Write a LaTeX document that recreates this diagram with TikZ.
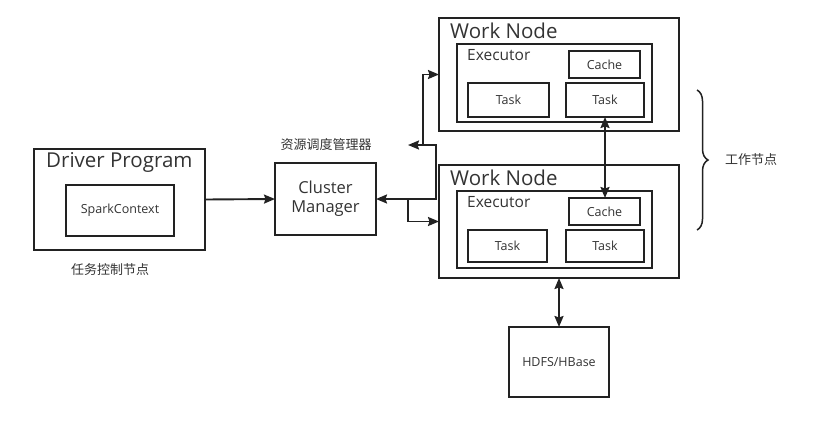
\documentclass[tikz,border=0pt]{standalone}
\usepackage{fontspec}
\setmainfont{Open Sans}
\newfontfamily\cjk{Noto Sans CJK SC}
\usetikzlibrary{arrows.meta,decorations.pathreplacing}
\definecolor{ink}{HTML}{222222}
\definecolor{txt}{HTML}{333333}
\tikzset{
  box/.style={draw=ink,line width=1.9pt,anchor=north west,inner sep=0pt,outer sep=0pt,text=txt},
  small/.style={font=\fontsize{12.5}{15}\selectfont},
  title/.style={anchor=west,inner sep=0pt,text=txt},
  big/.style={font=\fontsize{20.5}{24}\selectfont},
  lbl/.style={inner sep=0pt,text=txt,font=\cjk\fontsize{13}{15}\selectfont},
  conn/.style={draw=ink,line width=1.9pt},
  ah/.tip={Stealth[length=11pt,width=9pt,inset=1.5pt]},
}
\begin{document}
\begin{tikzpicture}[x=1pt,y=-1pt]
\useasboundingbox (0,0) rectangle (822,424);
% Work node 1
\node[box,minimum width=240,minimum height=113] (wn1) at (439,18) {};
\node[title,big] (wn1t) at (450,31) {Work Node};
\node[box,minimum width=195,minimum height=78] (ex1) at (457,44) {};
\node[title,font=\fontsize{15.5}{18}\selectfont] (ex1t) at (467,55) {Executor};
\node[box,small,minimum width=71,minimum height=27] (c1) at (569,51) {Cache};
\node[box,small,minimum width=81,minimum height=34] (t1a) at (468,83) {Task};
\node[box,small,minimum width=78,minimum height=34] (t1b) at (566,83) {Task};
% Work node 2
\node[box,minimum width=240,minimum height=113] (wn2) at (439,165) {};
\node[title,big] (wn2t) at (450,178) {Work Node};
\node[box,minimum width=195,minimum height=77] (ex2) at (457,191) {};
\node[title,font=\fontsize{15.5}{18}\selectfont] (ex2t) at (467,202) {Executor};
\node[box,small,minimum width=71,minimum height=27] (c2) at (569,198) {Cache};
\node[box,small,minimum width=79,minimum height=32] (t2a) at (468,230) {Task};
\node[box,small,minimum width=78,minimum height=32] (t2b) at (566,230) {Task};
% Driver
\node[box,minimum width=171,minimum height=101] (drv) at (34,149) {};
\node[title,big] (drvt) at (46,162) {Driver Program};
\node[box,small,minimum width=108,minimum height=51] (sc) at (66,185) {SparkContext};
\node[lbl] (drvl) at (110,270) {任务控制节点};
% Cluster manager
\node[box,minimum width=101,minimum height=72,font=\fontsize{16.5}{19}\selectfont,align=center] (cm) at (275,163) {Cluster\\Manager};
\node[lbl] (cml) at (326,145) {资源调度管理器};
% HDFS
\node[box,small,minimum width=100,minimum height=70] (hd) at (509,327) {HDFS/HBase};
% free ends
\coordinate (k1) at (436,199);
\coordinate (k2) at (436,145);
\coordinate (k3) at (408,145);
\coordinate (k4) at (423,145);
\coordinate (k5) at (423,74.5);
\coordinate (k6) at (408,199);
\coordinate (k7) at (408,221.5);
% connectors
\draw[conn,-ah] (drv.east) -- (cm.west);
\draw[conn,ah-ah] (cm.east) -- (k1) -- (k2) -- (k3);
\draw[conn,-ah] (k4) -- (k5) -- (wn1.west);
\draw[conn,-ah] (k6) -- (k7) -- (wn2.west);
\draw[conn,ah-ah] (t1b.south) -- (t1b.south |- c2.north);
\draw[conn,ah-ah] (wn2.south -| 559,0) -- (hd.north);
% brace
\coordinate (b1) at (697,90);
\coordinate (b2) at (697,230);
\draw[conn,line width=1.5pt,decorate,decoration={brace,amplitude=11pt}] (b1) -- (b2);
\node[lbl,anchor=west] (bl) at (725,160) {工作节点};
\end{tikzpicture}
\end{document}
